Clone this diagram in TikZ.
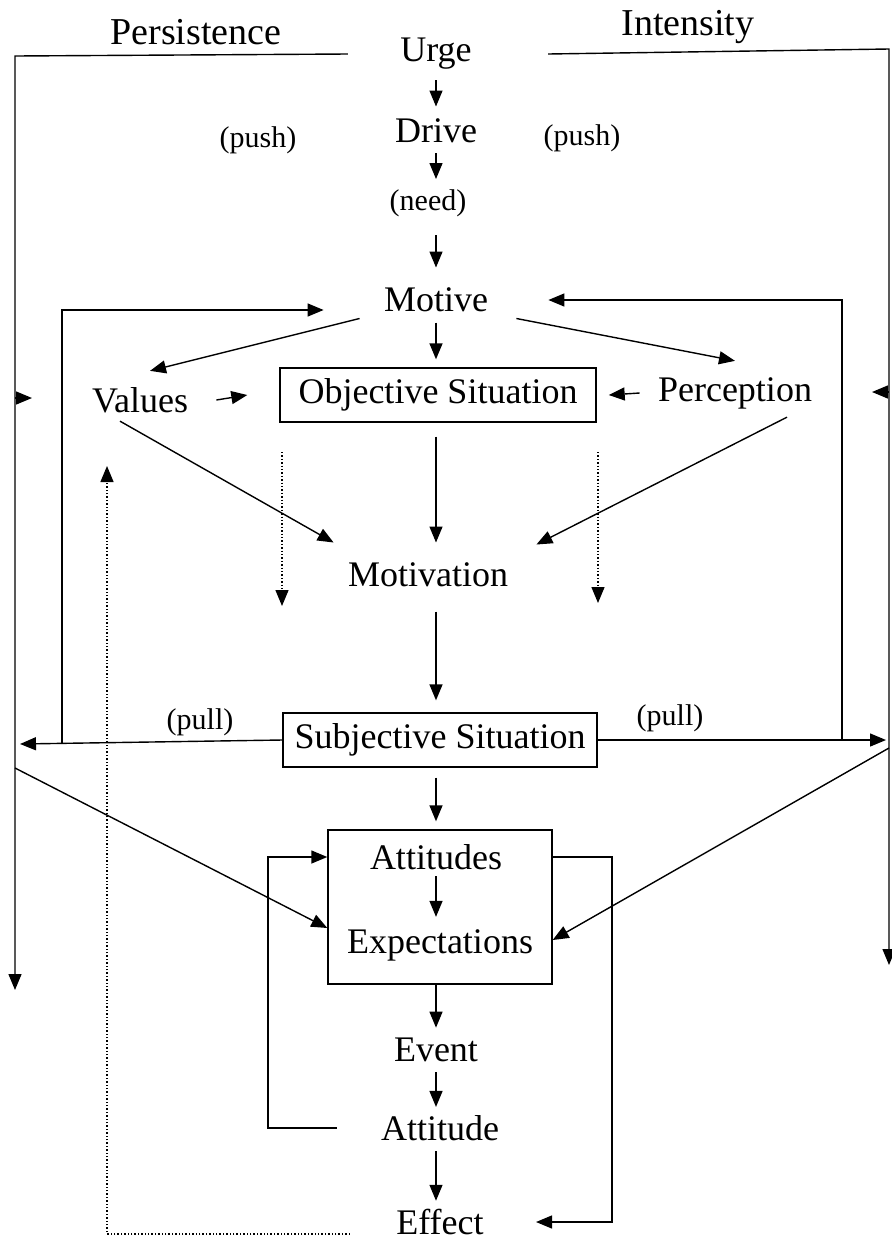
\documentclass[tikz,border=0pt]{standalone}
\usepackage{fontspec}
\setmainfont{Liberation Serif}
\usepackage{tikz}
\usetikzlibrary{arrows.meta,positioning,fit}

\begin{document}
\begin{tikzpicture}[x=0.5pt,y=-0.5pt,
  pfeil/.style={-{Triangle[length=8pt,width=6.5pt]},line width=0.7pt},
  linie/.style={line width=0.7pt},
  punktpfeil/.style={pfeil,densely dotted},
  kette/.style={pfeil,shorten <=3pt,shorten >=4pt},
  wort/.style={font=\fontsize{18}{21}\selectfont,inner sep=2pt},
  klein/.style={font=\fontsize{15}{18}\selectfont,inner sep=1pt},
  titel/.style={font=\fontsize{19}{22}\selectfont,inner sep=1pt},
  kasten/.style={wort,draw,line width=0.7pt,minimum height=27pt}]
%Rahmen: Bildgroesse wie die Vorlage (892 x 1243)
  \useasboundingbox (0,0) rectangle (892,1243);
  \pgfmathsetmacro{\xL}{15}
  \pgfmathsetmacro{\xR}{889}
  \pgfmathsetmacro{\xM}{436}
%Knoten
  \node[titel] (persistence) at (196,32) {Persistence};
  \node[titel] (intensity) at (688,27) {Intensity};
  \node[wort] (urge) at (\xM,54) {Urge};
  \node[wort] (drive) at (\xM,131) {Drive};
  \node[klein] (pushL) at (258,140) {(push)};
  \node[klein] (pushR) at (582,138) {(push)};
  \node[klein] (need) at (\xM-8,203) {(need)};
  \node[wort] (motive) at (\xM,300) {Motive};
  \node[wort] (values) at (140,400) {Values};
  \node[kasten,minimum width=158pt] (objective) at (438,395) {Objective Situation};
  \node[wort] (perception) at (735,393) {Perception};
  \node[wort] (motivation) at (\xM-8,575) {Motivation};
  \node[kasten,minimum width=157pt] (subjective) at (440,740) {Subjective Situation};
  \node[klein] (pullL) at (200,722) {(pull)};
  \node[klein] (pullR) at (670,718) {(pull)};
  \node[draw,linie,minimum width=112pt,minimum height=77pt] (aebox) at (440,907) {};
  \node[wort] (attitudes) at (\xM,857) {Attitudes};
  \node[wort] (expectations) at (440,945) {Expectations};
  \node[wort] (event) at (\xM,1050) {Event};
  \node[wort] (attitude) at (440,1128) {Attitude};
  \node[wort] (effect) at (440,1222) {Effect};
%Hilfspunkte an den Rahmenlinien
  \coordinate (lo) at (\xL,56);
  \coordinate (lu) at (\xL,990);
  \coordinate (ro) at (\xR,49);
  \coordinate (ru) at (\xR,965);
  \coordinate (lm) at (\xL,398);
  \coordinate (rm) at (\xR,392);
  \coordinate (lz) at (\xL+5,744);
  \coordinate (rz) at (\xR-3,740);
  \coordinate (ld) at (\xL,768);
  \coordinate (rd) at (\xR,748);
  \coordinate (zugL) at (62,744);
  \coordinate (zugR) at (842,740);
  \coordinate (knickL) at (268,857);
  \coordinate (knickR) at (612,857);
  \coordinate (punktL) at (107,466);
  \coordinate (dLo) at (282,452);
  \coordinate (dLu) at (282,606);
  \coordinate (dRo) at (598,452);
  \coordinate (dRu) at (598,603);
%Persistence und Intensity
  \draw[pfeil] ([xshift=-24pt]urge.west) -- (lo) -- (lu);
  \draw[pfeil] ([xshift=36pt]urge.east) -- (ro) -- (ru);
  \draw[pfeil] (lm) -- ++(17,0);
  \draw[pfeil] (rm) -- ++(-17,0);
%Mittlere Kette
  \draw[kette] (urge) -- (drive);
  \draw[kette] (drive.south -| urge) -- (need.north -| urge);
  \draw[kette,shorten <=8pt,shorten >=8pt] (need.south -| urge) -- (motive.north -| urge);
  \draw[kette] (motive) -- (motive |- objective.north);
  \draw[kette,shorten <=7pt,shorten >=8pt] (objective.south -| motive) -- (motivation.north -| motive);
  \draw[kette,shorten <=10pt,shorten >=6pt] (motivation.south -| motive) -- (subjective.north -| motive);
  \draw[kette,shorten <=5pt] (subjective.south -| motive) -- (aebox.north -| motive);
  \draw[kette,shorten <=1pt] (attitudes) -- (attitudes |- expectations.north);
  \draw[pfeil,shorten >=3pt] (aebox.south -| attitudes) -- (event.north -| attitudes);
  \draw[kette,shorten >=2pt] (event.south -| attitudes) -- (attitudes |- attitude.north);
  \draw[kette,shorten >=2pt] (attitude.south -| attitudes) -- (attitudes |- effect.north);
%Motive verzweigt
  \draw[pfeil] ([xshift=-10pt,yshift=-1pt]motive.south west) -- ([xshift=5pt,yshift=6pt]values.north);
  \draw[pfeil] ([xshift=12pt,yshift=-1pt]motive.south east) -- ([yshift=6pt]perception.north);
  \draw[pfeil] ([xshift=12pt]values.east) -- ([xshift=-16pt]objective.west);
  \draw[pfeil] ([xshift=-7pt]perception.west) -- ([xshift=6pt]objective.east);
  \draw[pfeil] ([xshift=-10pt,yshift=-2pt]values.south) -- ([xshift=-5pt,yshift=8pt]motivation.north west);
  \draw[pfeil] ([xshift=26pt,yshift=-2pt]perception.south) -- ([xshift=12pt,yshift=7pt]motivation.north east);
  \draw[punktpfeil] (dLo) -- (dLu);
  \draw[punktpfeil] (dRo) -- (dRu);
%Pull
  \draw[pfeil] (subjective.west) -- (lz);
  \draw[pfeil] (subjective.east) -- (rz);
  \draw[pfeil] (zugL) |- ([xshift=-28pt,yshift=-5pt]motive.west);
  \draw[pfeil] (zugR) |- ([xshift=28pt]motive.east);
  \draw[pfeil] (ld) -- ([yshift=-10.5pt]aebox.west);
  \draw[pfeil] (rd) -- ([yshift=-16.5pt]aebox.east);
%Rueckkopplung
  \draw[pfeil] ([xshift=-20pt]attitude.west) -| (knickL) -- (aebox.west |- knickL);
  \draw[pfeil] (aebox.east |- knickR) -- (knickR) |- ([xshift=24pt]effect.east);
  \draw[punktpfeil] ([xshift=-21pt,yshift=-6pt]effect.west) -| (punktL);
\end{tikzpicture}
\end{document}
